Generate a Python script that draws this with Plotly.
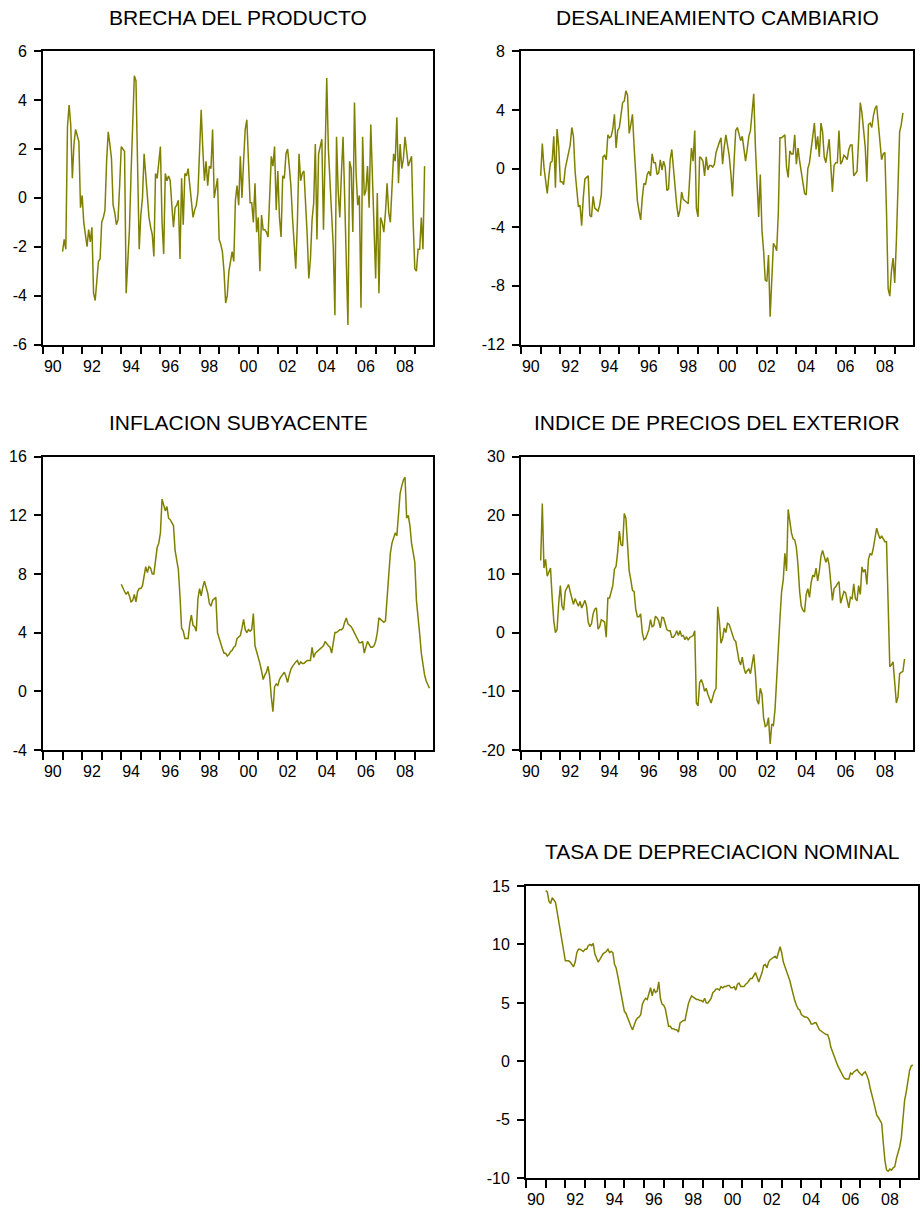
import pandas as pd
import plotly.graph_objects as go

gap_start = "1991-01"
gap_values = [
    -2.2, -1.7, -2.1, 2.9, 3.8, 3.0, 0.8, 2.2, 2.8, 2.5, 2.3, -0.4,
    0.1, -1.0, -1.5, -2.0, -1.3, -1.8, -1.2, -3.9, -4.2, -3.4, -2.6, -2.5,
    -1.0, -0.8, -0.5, 1.5, 2.7, 2.2, 1.6, -0.3, -0.6, -1.1, -0.9, 0.5,
    2.1, 2.0, 1.9, -3.9, -2.5, -1.3, 1.0, 3.5, 5.0, 4.8, 1.0, -2.1,
    -0.7, 0.0, 1.8, 0.8, -0.2, -0.8, -1.2, -1.5, -2.4, 1.0, 0.8, 1.6,
    2.1, -1.0, -2.3, 1.0, 0.7, 0.9, 0.7, -0.3, -1.2, -0.4, -0.3, -0.1,
    -2.5, 0.8, -1.1, 1.0, 0.9, 1.2, 0.5, -0.3, -0.8, -0.5, -0.3, 0.2,
    2.2, 3.6, 2.0, 0.7, 1.5, 0.5, 1.3, 1.2, 2.8, 0.0, 0.4, 0.8,
    -1.7, -1.9, -2.2, -3.0, -4.3, -4.0, -3.0, -2.6, -2.2, -2.6, -0.1, 0.5,
    -0.3, 1.7, 0.0, 1.5, 2.8, 3.2, 1.3, -0.2, -0.2, -1.0, 0.6, -1.4,
    -0.8, -3.0, -0.7, -1.3, -1.3, -1.4, -1.6, 0.5, 1.7, 1.3, 2.1, -0.5,
    1.1, -0.8, -1.6, 0.9, 0.8, 1.8, 2.0, 1.3, 0.5, -0.8, -1.8, -2.9,
    -1.0, 1.8, 0.7, 1.0, 1.1, 0.0, -1.5, -3.3, -2.5, -0.9, -0.2, 2.2,
    -1.7, 1.8, 2.1, 2.4, -1.3, 2.0, 4.9, 2.0, 0.5, -0.5, -2.0, -4.8,
    2.5, 0.3, -0.8, 1.0, 2.5, 0.0, -3.0, -5.2, 1.5, 1.2, -1.4, 3.9,
    1.0, -0.3, 0.1, -4.5, 2.5, 0.1, 0.3, 1.3, -0.4, 3.0, 0.9, -1.0,
    -3.3, 0.2, -3.9, -0.8, -1.0, -1.4, -0.6, 0.6, -0.6, -1.0, 0.2, 1.8,
    1.5, 3.3, 0.6, 2.2, 1.2, 1.6, 2.5, 2.0, 1.3, 1.5, 1.7, -1.0,
    -2.9, -3.0, -2.1, -2.1, -0.8, -2.1, 1.3,
]

misalign_start = "1991-01"
misalign_values = [
    -0.5, 1.7, 0.1, -0.8, -1.7, -0.5, 0.4, 0.5, 2.2, -1.3, 2.7, 1.5,
    -0.9, -0.9, -1.1, 0.0, 0.6, 1.2, 1.6, 2.8, 2.2, -0.2, -1.6, -2.6,
    -2.5, -3.9, -2.0, -0.7, -0.6, -0.5, -3.2, -3.3, -1.9, -2.7, -2.8, -2.9,
    -2.5, -1.8, 0.8, 0.9, 0.6, 2.3, 2.1, 2.2, 2.7, 3.7, 1.4, 2.6,
    2.8, 3.5, 4.5, 4.6, 5.3, 5.0, 2.4, 3.0, 3.7, 1.5, -0.3, -2.2,
    -2.9, -3.5, -2.0, -1.0, -1.1, -0.4, -0.2, -0.5, 1.0, 0.4, 0.4, -0.4,
    -0.3, 0.6, -0.1, 0.5, 0.1, -1.5, -1.4, 0.6, 1.3, 0.0, -1.5, -2.5,
    -3.3, -2.8, -1.6, -2.1, -2.2, -2.3, -2.4, -0.5, 1.4, 0.5, 2.6, -2.7,
    -3.3, 0.8, 0.7, 0.5, -0.5, 0.8, -0.1, 0.2, 0.2, 0.1, 0.3, 1.1,
    1.5, 1.8, 2.1, 0.3, 1.5, 2.3, 1.6, 0.9, -0.3, -1.9, 0.5, 2.6,
    2.8, 2.3, 1.9, 2.2, 1.5, 0.5, 1.3, 2.2, 2.6, 4.0, 5.1, 1.5,
    -1.5, -3.3, -0.4, -4.2, -5.6, -7.6, -7.7, -5.9, -10.1, -7.0, -5.1, -5.3,
    -5.6, -3.0, 2.1, 2.1, 2.2, 2.3, 0.1, -0.6, 1.2, 1.0, 1.0, 2.3,
    0.3, 1.4, 0.5, -0.3, -1.2, -1.7, -1.8, 0.0, 0.4, 1.2, 2.0, 3.1,
    1.3, 2.2, 0.8, 3.1, 2.5, 0.8, 0.4, 1.1, 2.0, 0.2, -1.6, 0.2,
    0.4, 0.4, 2.6, 0.3, 0.5, 0.9, 0.8, 0.6, 1.3, 1.6, 1.6, -0.5,
    -0.3, -0.2, 2.0, 4.5, 3.8, 2.5, 1.5, -0.9, 3.0, 3.1, 2.8, 3.6,
    4.1, 4.3, 3.0, 2.0, 0.6, 1.0, 1.1, -3.0, -8.2, -8.7, -7.0, -6.1,
    -7.8, -5.0, -1.0, 2.5, 3.0, 3.8,
]

core_start = "1994-01"
core_values = [
    7.3, 7.0, 6.8, 6.6, 6.8, 6.5, 6.1, 6.2, 6.6, 6.1, 6.8, 7.0,
    7.0, 7.2, 7.8, 8.5, 8.1, 8.5, 8.4, 8.0, 8.0, 9.0, 9.8, 10.1,
    10.8, 13.1, 12.6, 12.3, 12.6, 11.8, 11.7, 11.5, 11.3, 9.6, 9.0, 8.3,
    6.5, 4.3, 4.1, 3.6, 3.6, 3.6, 4.6, 5.2, 4.5, 4.4, 4.1, 6.3,
    7.0, 6.5, 7.1, 7.5, 7.1, 6.7, 6.0, 5.8, 6.2, 6.3, 6.4, 4.0,
    3.6, 3.2, 2.9, 2.6, 2.6, 2.4, 2.5, 2.7, 2.8, 3.0, 3.1, 3.6,
    3.7, 3.8, 4.3, 4.9, 4.2, 4.0, 4.2, 4.1, 4.2, 5.3, 3.1, 2.7,
    2.4, 1.9, 1.4, 0.8, 1.1, 1.3, 1.7, 1.0, -0.4, -1.4, 0.3, 0.5,
    0.4, 0.8, 1.0, 1.2, 1.3, 1.0, 0.6, 1.1, 1.5, 1.7, 1.9, 2.0,
    2.1, 1.8, 2.0, 1.9, 1.9, 2.0, 2.1, 2.1, 2.1, 3.0, 2.3, 2.6,
    2.7, 2.8, 2.9, 3.0, 3.1, 3.4, 3.2, 3.1, 3.0, 2.6, 3.3, 4.0,
    4.0, 4.1, 4.2, 4.2, 4.3, 4.7, 5.0, 4.6, 4.5, 4.4, 4.2, 4.0,
    3.8, 3.6, 3.3, 3.3, 3.4, 2.6, 3.1, 3.4, 3.2, 3.0, 3.0, 3.1,
    3.4, 4.0, 5.0, 4.9, 4.8, 4.7, 4.8, 6.5, 8.2, 9.4, 10.1, 10.5,
    10.8, 10.6, 12.4, 13.5, 14.0, 14.4, 14.6, 11.8, 12.0, 11.3, 10.1, 9.5,
    8.8, 6.2, 5.2, 3.9, 2.6, 1.8, 1.1, 0.7, 0.4, 0.2,
]

foreign_start = "1991-01"
foreign_values = [
    12.3, 22.0, 11.0, 12.5, 9.6, 10.3, 11.0, 6.0, 2.0, 0.0, 0.5, 5.0,
    8.0, 4.5, 3.8, 7.0, 7.5, 8.2, 7.0, 6.0, 4.8, 5.8, 5.0, 4.5,
    5.3, 4.2, 4.8, 5.5, 4.5, 1.8, 1.0, 1.5, 3.2, 4.0, 4.2, 0.6,
    1.0, 2.2, 2.0, 1.8, -0.8, 5.9, 5.9, 7.0, 8.0, 10.8, 11.3, 13.8,
    17.3, 15.0, 14.8, 20.3, 19.5, 15.0, 10.5, 9.0, 7.2, 7.0, 4.0, 2.7,
    2.7, 3.2, 0.0, -1.2, -1.0, -0.3, 0.5, 2.2, 1.0, 1.2, 2.8, 2.5,
    2.0, 0.8, 2.6, 2.5, 1.5, 0.5, 0.3, 0.3, -0.8, -0.8, -0.4, 0.3,
    -0.5, 0.3, -0.6, -0.5, -1.2, -0.7, -1.3, -0.8, -0.7, -0.5, 0.3, -12.0,
    -12.5, -8.5, -8.0, -8.8, -10.0, -9.5, -10.5, -11.2, -12.0, -11.0, -10.0, -9.5,
    4.4, 2.0, -1.8, -1.0, 0.8, 0.0, 1.6, 1.4, 0.5, -0.5, -1.2, -1.5,
    -3.0, -4.8, -5.5, -4.2, -6.0, -7.0, -6.5, -6.2, -7.0, -5.5, -3.7, -7.0,
    -11.5, -12.2, -9.5, -10.5, -14.5, -16.0, -15.8, -14.5, -19.0, -15.6, -15.8, -13.0,
    -7.0, -2.0, 2.5, 7.0, 9.0, 13.5, 10.5, 21.0, 18.5, 17.0, 16.0, 15.8,
    14.5, 11.5, 7.0, 4.5, 3.8, 3.5, 6.5, 7.5, 6.0, 8.5, 9.8, 9.5,
    11.0, 8.8, 10.5, 13.0, 14.0, 12.8, 12.0, 12.8, 11.5, 8.5, 5.5, 7.5,
    7.8, 8.3, 8.7, 5.0, 6.3, 7.0, 6.8, 5.5, 4.2, 6.0, 5.8, 8.3,
    5.8, 5.4, 8.0, 6.5, 11.2, 10.3, 10.8, 8.2, 12.5, 13.5, 13.2, 14.5,
    16.0, 17.8, 16.8, 16.0, 16.5, 16.0, 15.5, 15.5, 3.0, -5.8, -5.5, -5.0,
    -8.5, -12.0, -11.0, -7.0, -6.8, -6.6, -4.5,
]

deprec_start = "1991-01"
deprec_values = [
    14.6, 14.5, 13.7, 13.5, 14.0, 13.8, 13.6, 12.8, 11.9, 11.2, 10.0, 9.1,
    8.6, 8.6, 8.6, 8.5, 8.3, 8.1, 8.5, 9.3, 9.6, 9.6, 9.5, 9.4,
    9.6, 9.6, 9.9, 10.0, 9.9, 10.1, 9.2, 8.8, 8.5, 8.7, 9.0, 9.2,
    9.3, 9.4, 9.6, 9.3, 9.4, 9.3, 8.3, 8.0, 7.3, 6.5, 5.7, 4.9,
    4.3, 4.1, 3.7, 3.4, 3.0, 2.7, 3.2, 3.5, 3.7, 3.8, 4.0, 4.9,
    5.2, 5.4, 5.3, 5.9, 6.3, 5.6, 6.2, 5.9, 6.0, 6.8, 5.4, 4.9,
    4.8, 4.5, 3.8, 3.0, 3.0, 2.8, 2.8, 2.7, 2.7, 2.5, 3.3, 3.4,
    3.5, 3.5, 4.3, 4.9, 5.3, 5.6, 5.5, 5.4, 5.3, 5.3, 5.2, 5.2,
    5.1, 5.4, 5.0, 5.0, 5.2, 5.4, 5.9, 6.0, 6.2, 6.2, 6.1, 6.4,
    6.3, 6.4, 6.4, 6.5, 6.5, 6.3, 6.3, 6.4, 6.1, 6.6, 6.7, 6.4,
    6.4, 6.4, 6.6, 6.7, 6.9, 7.1, 7.1, 7.3, 7.6, 7.2, 6.8, 7.2,
    7.6, 8.2, 8.3, 8.0, 8.5, 8.7, 8.8, 8.9, 9.0, 8.8, 9.4, 9.8,
    9.3, 8.5, 8.1, 7.7, 7.3, 6.9, 6.3, 5.7, 5.2, 4.8, 4.5, 4.4,
    4.0, 3.9, 3.8, 3.8, 3.7, 3.5, 3.2, 3.2, 3.3, 3.3, 3.0, 2.7,
    2.6, 2.5, 2.4, 2.3, 2.3, 1.9, 1.2, 0.8, 0.5, 0.0, -0.3, -0.6,
    -0.9, -1.2, -1.4, -1.5, -1.5, -1.5, -1.0, -1.1, -0.9, -0.8, -0.7, -0.9,
    -1.1, -1.2, -1.0, -0.9, -1.2, -1.6, -2.3, -3.0, -3.4, -4.0, -4.6, -4.8,
    -5.0, -5.3, -7.0, -8.5, -9.3, -9.4, -9.2, -9.3, -9.1, -9.0, -8.3, -7.8,
    -7.3, -6.5, -5.0, -3.3, -2.6, -1.8, -0.8, -0.4, -0.3,
]

titles = [
    "BRECHA DEL PRODUCTO",
    "DESALINEAMIENTO CAMBIARIO",
    "INFLACION SUBYACENTE",
    "INDICE DE PRECIOS DEL EXTERIOR",
    "TASA DE DEPRECIACION NOMINAL",
]

x_label_years = list(range(1990, 2009, 2))
x_labels = ["90", "92", "94", "96", "98", "00", "02", "04", "06", "08"]
x_tick_years = list(range(1990, 2010))

y_ticks = [
    ([6, 4, 2, 0, -2, -4, -6], ["6", "4", "2", "0", "-2", "-4", "-6"], (-6, 6)),
    ([8, 4, 0, -4, -8, -12], ["8", "4", "0", "-4", "-8", "-12"], (-12, 8)),
    ([16, 12, 8, 4, 0, -4], ["16", "12", "8", "4", "0", "-4"], (-4, 16)),
    ([30, 20, 10, 0, -10, -20], ["30", "20", "10", "0", "-10", "-20"], (-20, 30)),
    ([15, 10, 5, 0, -5, -10], ["15", "10", "5", "0", "-5", "-10"], (-10, 15)),
]

series = [
    (gap_start, gap_values),
    (misalign_start, misalign_values),
    (core_start, core_values),
    (foreign_start, foreign_values),
    (deprec_start, deprec_values),
]

# ---------------- layout geometry ----------------
W, H = 922, 1209
boxes = [  # left, right, top, bottom (target pixels)
    (43, 433, 51, 344),
    (521, 913, 51, 344),
    (43, 433, 456, 749),
    (521, 913, 456, 749),
    (526, 918, 885, 1177),
]
title_y = [17, 17, 422, 422, 850]

# the photographed page maps vertical figure pixels as  0.985 * y + 7.8
V_SCALE, V_OFF = 0.985, 7.8

LINE_COLOR = "#808000"
FONT = "Liberation Sans, Arial, sans-serif"

fig = go.Figure()
layout = dict(
    width=W, height=H, margin=dict(l=0, r=0, t=0, b=0),
    paper_bgcolor="white", plot_bgcolor="white", showlegend=False,
    font=dict(family=FONT, color="black", size=16),
    annotations=[],
)


def px_x(v):
    return min(1.0, v / W)


def px_y(v):
    return 1 - ((v - V_OFF) / V_SCALE) / H


for i, ((start, vals), box, (tv, tt, rng), title, ty) in enumerate(
        zip(series, boxes, y_ticks, titles, title_y)):
    n = i + 1
    dates = pd.date_range(start=start, periods=len(vals), freq="MS")
    xfrac = dates.year + (dates.month - 1) / 12.0
    xa = "x" if n == 1 else f"x{n}"
    ya = "y" if n == 1 else f"y{n}"
    fig.add_trace(go.Scatter(x=list(xfrac), y=vals, mode="lines",
                             line=dict(color=LINE_COLOR, width=1.5),
                             xaxis=xa, yaxis=ya, hoverinfo="skip"))
    l, r, t, b = box
    xkey = "xaxis" if n == 1 else f"xaxis{n}"
    ykey = "yaxis" if n == 1 else f"yaxis{n}"
    layout[xkey] = dict(
        domain=[px_x(l), px_x(r)], anchor=ya, range=[1990, 2009.93],
        tickmode="array", tickvals=[yv + 0.5 for yv in x_label_years],
        ticktext=x_labels, ticks="", showgrid=False, zeroline=False,
        showline=True, mirror=True, linecolor="black", linewidth=1.8,
        tickfont=dict(size=16, family=FONT), ticklabelstandoff=6,
        minor=dict(tickmode="array", tickvals=x_tick_years, ticks="outside",
                   ticklen=8, tickwidth=1.5, tickcolor="black", showgrid=False),
    )
    layout[ykey] = dict(
        domain=[px_y(b), px_y(t)], anchor=xa, range=list(rng),
        tickmode="array", tickvals=tv, ticktext=tt, ticks="outside",
        ticklen=7, tickwidth=1.5, tickcolor="black", showgrid=False,
        zeroline=False, showline=True, mirror=True, linecolor="black",
        linewidth=1.8, tickfont=dict(size=16, family=FONT), ticklabelstandoff=4,
    )
    layout["annotations"].append(dict(
        text=title, xref="paper", yref="paper", x=px_x((l + r) / 2),
        y=px_y(ty), xanchor="center", yanchor="middle", showarrow=False,
        font=dict(size=21, family=FONT, color="black"),
    ))

fig.update_layout(**layout)
fig.write_html("out.html", config={"displayModeBar": False},
               post_script="document.body.style.margin='0';")
